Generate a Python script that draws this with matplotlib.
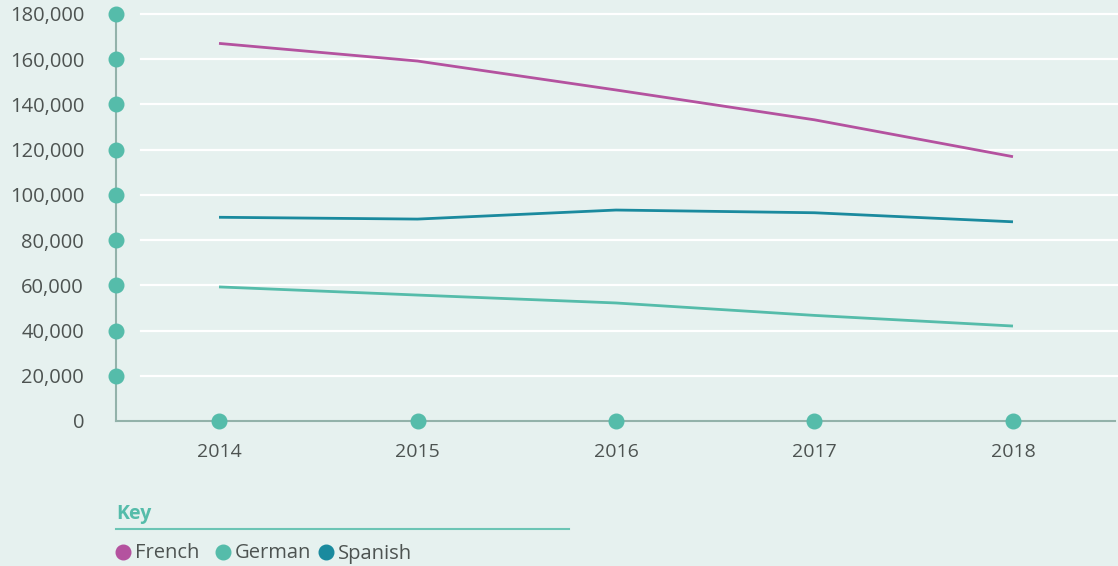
import matplotlib
matplotlib.use("Agg")
import matplotlib.pyplot as plt
from matplotlib.lines import Line2D

years = [2014, 2015, 2016, 2017, 2018]
series_names = ["French", "German", "Spanish"]
french = [167000, 159200, 146400, 133200, 116900]
german = [59300, 55700, 52200, 46700, 42000]
spanish = [90100, 89300, 93300, 92100, 88100]
y_ticks = [0, 20000, 40000, 60000, 80000, 100000, 120000, 140000, 160000, 180000]

colors = {"French": "#b4529f", "German": "#55bcaa", "Spanish": "#1a8a9e"}
bg = "#e6f1ef"
text_col = "#4d5351"
dot_col = "#55bcaa"
axis_col = "#93b2aa"

plt.rcParams["font.family"] = ["Open Sans", "DejaVu Sans"]

W, H = 1118, 566
fig = plt.figure(figsize=(W / 100, H / 100), dpi=100, facecolor=bg)
ax = fig.add_axes([116 / W, 1 - 421 / H, (1115 - 116) / W, (421 - 14) / H])
ax.set_facecolor(bg)

xmin, xmax = 2013.481, 2018.514
ax.set_xlim(xmin, xmax)
ax.set_ylim(0, 180000)

# gridlines
gx0 = (141 - 116) / (1115 - 116)
for v in y_ticks[1:]:
    ax.axhline(v, xmin=gx0, xmax=1.01, color="white", lw=1.6, zorder=1, clip_on=False)

for name, vals in zip(series_names, [french, german, spanish]):
    ax.plot(years, vals, color=colors[name], lw=2.0, zorder=3, solid_capstyle="butt")

for s in ["top", "right"]:
    ax.spines[s].set_visible(False)
for s in ["left", "bottom"]:
    ax.spines[s].set_color(axis_col)
    ax.spines[s].set_linewidth(1.5)
    ax.spines[s].set_zorder(2)

# tick dots
ax.plot([xmin] * (len(y_ticks) - 1), y_ticks[1:], "o", ms=10.5, color=dot_col,
        clip_on=False, zorder=5)
ax.plot(years, [0] * len(years), "o", ms=10.5, color=dot_col, clip_on=False, zorder=5)

ax.set_yticks(y_ticks)
ax.set_yticklabels([f"{v:,}" for v in y_ticks])
ax.set_xticks(years)
ax.set_xticklabels([str(y) for y in years])
ax.tick_params(axis="y", length=0, pad=23, labelsize=14.5, labelcolor=text_col)
ax.tick_params(axis="x", length=0, pad=16, labelsize=14, labelcolor=text_col)

# legend
fig.text(116 / W, 1 - 514 / H, "Key", fontsize=14, fontweight="bold", color="#55bcaa",
         va="center", ha="left")
fig.add_artist(Line2D([116 / W, 569 / W], [1 - 529 / H, 1 - 529 / H], color="#6cc5b5",
                      lw=1.5, transform=fig.transFigure))
leg_x = [123, 223, 326]
for name, x in zip(series_names, leg_x):
    fig.add_artist(Line2D([x / W], [1 - 552 / H], marker="o", ms=10.5, color=colors[name],
                          lw=0, transform=fig.transFigure))
    fig.text((x + 12) / W, 1 - 553.5 / H, name, fontsize=14.5, color=text_col,
             va="center", ha="left")

fig.savefig("out.png", dpi=100, facecolor=bg)
